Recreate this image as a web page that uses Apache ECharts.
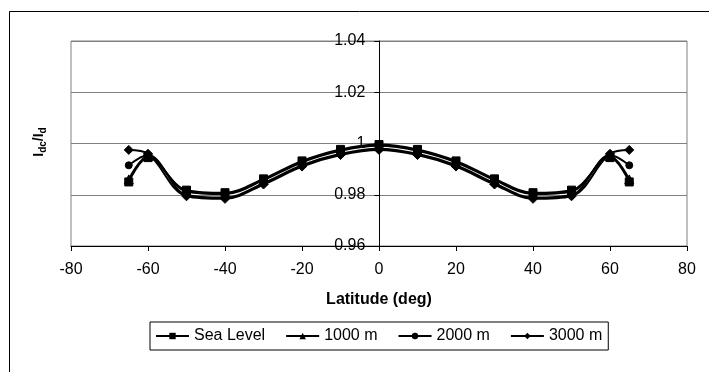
<!DOCTYPE html>
<html>
<head>
<meta charset="utf-8">
<script src="https://cdn.jsdelivr.net/npm/echarts@6/dist/echarts.min.js"></script>
<style>
  html, body { margin: 0; padding: 0; background: #fff; }
  #chart { width: 709px; height: 372px; }
</style>
</head>
<body>
<div id="chart"></div>
<script>
// latitude of each sample (deg)
const latitudes = [-65, -60, -50, -40, -30, -20, -10, 0, 10, 20, 30, 40, 50, 60, 65];

// Idc/Id per altitude
const seaLevel = [0.9850, 0.9945, 0.9818, 0.9808, 0.9862, 0.9932, 0.9977, 0.9996, 0.9977, 0.9932, 0.9862, 0.9808, 0.9818, 0.9945, 0.9850];
const alt1000 = [0.9860, 0.9950, 0.9813, 0.9803, 0.9857, 0.9927, 0.9972, 0.9991, 0.9972, 0.9927, 0.9857, 0.9803, 0.9813, 0.9950, 0.9860];
const alt2000 = [0.9915, 0.9955, 0.9799, 0.9789, 0.9845, 0.9915, 0.9960, 0.9980, 0.9960, 0.9915, 0.9845, 0.9789, 0.9799, 0.9955, 0.9915];
const alt3000 = [0.9975, 0.9960, 0.9794, 0.9784, 0.9840, 0.9910, 0.9955, 0.9975, 0.9955, 0.9910, 0.9840, 0.9784, 0.9794, 0.9960, 0.9975];

const seriesNames = ["Sea Level", "1000 m", "2000 m", "3000 m"];
const seriesSymbols = ["rect", "triangle", "circle", "diamond"];
const seriesSizes = [8, 9, 7, 9];

const FONT = "'Liberation Sans', Arial, sans-serif";

const chart = echarts.init(document.getElementById("chart"), null, { renderer: "canvas" });

const pairs = (ys) => latitudes.map((x, i) => [x, ys[i]]);
const allValues = [seaLevel, alt1000, alt2000, alt3000];

chart.setOption({
    animation: false,
    textStyle: { fontFamily: FONT },
    grid: {
        left: 71,
        top: 41,
        right: 22,
        bottom: 126,
        show: true,
        borderColor: "#808080",
        borderWidth: 1,
    },
    legend: {
        left: 150,
        top: 322,
        orient: "horizontal",
        itemWidth: 33,
        itemHeight: 8,
        itemGap: 20,
        padding: [6, 6, 6, 5],
        borderColor: "#000",
        borderWidth: 1,
        textStyle: { fontFamily: FONT, fontSize: 16, color: "#000" },
        data: seriesNames,
    },
    xAxis: {
        type: "value",
        min: -80,
        max: 80,
        interval: 20,
        name: "Latitude (deg)",
        nameLocation: "middle",
        nameGap: 46,
        nameTextStyle: { fontFamily: FONT, fontSize: 16, fontWeight: "bold", color: "#000" },
        axisLine: { onZero: false, lineStyle: { color: "#000", width: 1 } },
        axisTick: { show: true, inside: false, length: 5, lineStyle: { color: "#000" } },
        axisLabel: { margin: 16, fontSize: 16, color: "#000", fontFamily: FONT },
        splitLine: { show: false },
    },
    yAxis: {
        type: "value",
        min: 0.96,
        max: 1.04,
        interval: 0.02,
        position: "left",
        offset: -308.3,
        axisLine: { show: true, onZero: false, lineStyle: { color: "#000", width: 1 } },
        axisTick: { show: true, inside: false, length: 5, lineStyle: { color: "#000" } },
        axisLabel: {
            margin: 14,
            fontSize: 16,
            color: "#000",
            fontFamily: FONT,
            formatter: (v) => {
                const r = Number(Number(v).toFixed(2));
                return r === 1 ? "1" : r.toFixed(2);
            },
        },
        splitLine: { show: true, lineStyle: { color: "#808080", width: 1 } },
    },
    graphic: [
        {
            type: "rect",
            silent: true,
            shape: { x: 9.5, y: 11.5, width: 760, height: 420 },
            style: { fill: null, stroke: "#000", lineWidth: 1 },
            z: 100,
        },
        {
            type: "text",
            x: 39,
            y: 142,
            rotation: Math.PI / 2,
            style: {
                text: "{b|I}{s|dc}{b|/I}{s|d}",
                align: "center",
                verticalAlign: "middle",
                fill: "#000",
                rich: {
                    b: { fontFamily: FONT, fontSize: 14, fontWeight: "bold", lineHeight: 18, verticalAlign: "middle" },
                    s: { fontFamily: FONT, fontSize: 10, fontWeight: "bold", lineHeight: 10, verticalAlign: "bottom" },
                },
            },
        },
    ],
    series: seriesNames.map((name, i) => ({
        name: name,
        type: "line",
        data: pairs(allValues[i]),
        smooth: 0.35,
        symbol: seriesSymbols[i],
        symbolSize: seriesSizes[i],
        showAllSymbol: true,
        lineStyle: { color: "#000", width: 2 },
        itemStyle: { color: "#000", borderColor: "#000" },
        emphasis: { disabled: true },
    })),
});
</script>
</body>
</html>
